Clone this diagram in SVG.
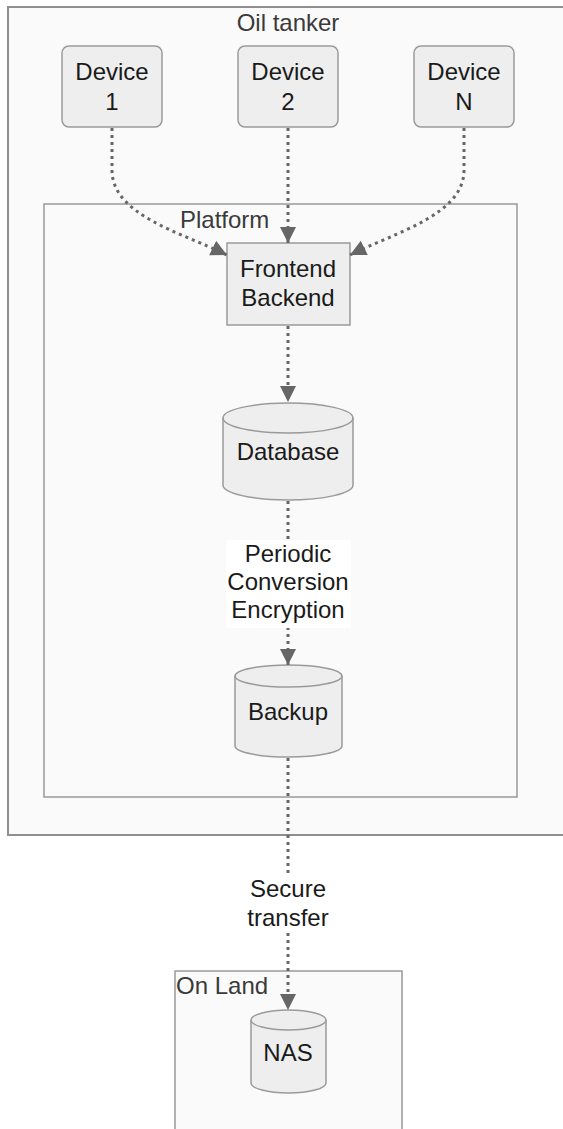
<svg xmlns="http://www.w3.org/2000/svg" width="563" height="1129" viewBox="0 0 563 1129">
<defs>
<style>
.container{fill:#fafafa;stroke:#999999;stroke-width:1.5}
.box{fill:#eeeeee;stroke:#9a9a9a;stroke-width:1.5}
.cyl{fill:#eeeeee;stroke:#9a9a9a;stroke-width:1.5}
.cyltop{fill:none;stroke:#9a9a9a;stroke-width:1.5}
.t{font-family:"Liberation Sans",Arial,sans-serif;font-size:24px;fill:#1a1a1a;text-anchor:middle}
.ct{font-family:"Liberation Sans",Arial,sans-serif;font-size:24px;fill:#3a3a3a}
.edge{fill:none;stroke:#666666;stroke-width:3;stroke-dasharray:3 4}
.lblbg{fill:#ffffff}
</style>
<marker id="arr" markerUnits="userSpaceOnUse" markerWidth="17" markerHeight="17" refX="16" refY="8" orient="auto" viewBox="0 0 17 17">
<path d="M0,0 L16,8 L0,16 Z" fill="#666666"/>
</marker>
</defs>
<rect x="0" y="0" width="563" height="1129" fill="#ffffff"/>

<g id="oil-tanker">
<rect class="container" x="8" y="7" width="570" height="828" style="stroke-width:2;stroke:#8f8f8f"/>
<text class="ct" x="288" y="31" text-anchor="middle">Oil tanker</text>
</g>

<g id="platform">
<rect class="container" x="44" y="204" width="473" height="593"/>
<text class="ct" x="180" y="228">Platform</text>
</g>

<g id="on-land">
<rect class="container" x="175" y="971" width="227" height="175"/>
<text class="ct" x="176" y="994">On Land</text>
</g>

<g id="device-1">
<rect class="box" x="62" y="46" width="100" height="81" rx="7"/>
<text class="t" x="112" y="80">Device</text>
<text class="t" x="112" y="110">1</text>
</g>
<g id="device-2">
<rect class="box" x="238" y="46" width="100" height="81" rx="7"/>
<text class="t" x="288" y="80">Device</text>
<text class="t" x="288" y="110">2</text>
</g>
<g id="device-n">
<rect class="box" x="414" y="46" width="100" height="81" rx="7"/>
<text class="t" x="464" y="80">Device</text>
<text class="t" x="464" y="110">N</text>
</g>

<g id="frontend-backend">
<rect class="box" x="227" y="243" width="123" height="82"/>
<text class="t" x="288" y="277">Frontend</text>
<text class="t" x="288" y="306">Backend</text>
</g>

<g id="database">
<path class="cyl" d="M223,418 A65,15 0 0 1 353,418 V485 A65,15 0 0 1 223,485 Z"/>
<path class="cyltop" d="M223,418 A65,15 0 0 0 353,418"/>
<text class="t" x="288" y="460">Database</text>
</g>

<g id="backup">
<path class="cyl" d="M235,676 A53.5,11 0 0 1 342,676 V746 A53.5,11 0 0 1 235,746 Z"/>
<path class="cyltop" d="M235,676 A53.5,11 0 0 0 342,676"/>
<text class="t" x="288" y="720">Backup</text>
</g>

<g id="nas">
<path class="cyl" d="M251,1020 A37.5,10 0 0 1 326,1020 V1083 A37.5,10 0 0 1 251,1083 Z"/>
<path class="cyltop" d="M251,1020 A37.5,10 0 0 0 326,1020"/>
<text class="t" x="288" y="1061">NAS</text>
</g>

<g id="connectors">
<path class="edge" d="M112,128 L112,170 C112,215 180,232 227,255" marker-end="url(#arr)"/>
<path class="edge" d="M288,128 L288,243" marker-end="url(#arr)"/>
<path class="edge" d="M464,128 L464,170 C464,215 396,232 350,255" marker-end="url(#arr)"/>
<path class="edge" d="M288,326 L288,402" marker-end="url(#arr)"/>
<path class="edge" d="M288,501 L288,665" marker-end="url(#arr)"/>
<path class="edge" d="M288,758 L288,1010" marker-end="url(#arr)"/>
<rect class="lblbg" x="226" y="540" width="125" height="88"/>
<text class="t" x="288" y="562">Periodic</text>
<text class="t" x="288" y="590">Conversion</text>
<text class="t" x="288" y="618">Encryption</text>
<rect class="lblbg" x="247" y="875" width="82" height="58"/>
<text class="t" x="288" y="897">Secure</text>
<text class="t" x="288" y="926">transfer</text>
</g>
</svg>
